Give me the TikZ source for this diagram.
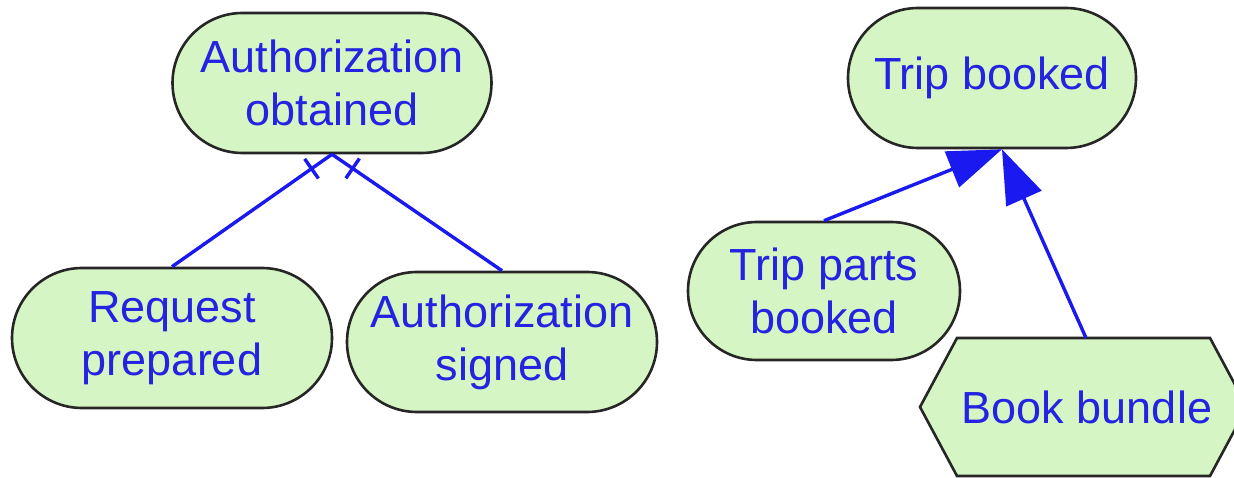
\documentclass[tikz,border=0pt]{standalone}
\usepackage{fontspec}
\setmainfont{Liberation Sans}
\usetikzlibrary{shapes.misc,arrows.meta,decorations.markings,calc}
\definecolor{nodefill}{RGB}{214,245,196}
\definecolor{txtblue}{RGB}{35,35,225}
\definecolor{lineblue}{RGB}{25,25,240}
\begin{document}
\begin{tikzpicture}[x=1pt,y=-1pt,
  state/.style={rounded rectangle, draw=black!85, line width=2.6pt, fill=nodefill,
    text=txtblue, align=center, inner sep=0pt, minimum height=140pt,
    font=\fontsize{45}{53}\selectfont},
  conn/.style={draw=lineblue, line width=3.4pt},
  tickline/.style={conn, postaction={decorate},
    decoration={markings, mark=at position 25pt with {\draw[lineblue, line width=3.4pt] (0pt,-12pt) -- (0pt,12pt);}}},
  bigarrow/.style={conn, -{Triangle[length=54pt,width=38pt]}}]
\useasboundingbox (0,0) rectangle (1234,478);
% left group
\node[state, minimum width=319pt] (ao) at (332,83) {Authorization\\obtained};
\node[state, minimum width=320pt] (rp) at (172,338) {Request\\prepared};
\node[state, minimum width=310pt] (as) at (502,342) {Authorization\\signed};
\draw[tickline] (ao.south) -- (rp.north);
\draw[tickline] (ao.south) -- (as.north);
% right group
\node[state, minimum width=288pt] (tb) at (992,78) {Trip booked};
\node[state, minimum width=272pt, minimum height=138pt] (tpb) at (824,291) {Trip parts\\booked};
\draw[fill=nodefill, draw=black!85, line width=2.6pt]
  (920,407) -- (957,338) -- (1210,338) -- (1247,407) -- (1210,476) -- (957,476) -- cycle;
\node[text=txtblue, font=\fontsize{45}{53}\selectfont, inner sep=0pt] (bb) at (1087,407) {Book bundle};
\coordinate (bbtop) at (1086,338);
\coordinate (tbtip) at ($(tb.south)+(10pt,0pt)$);
\draw[bigarrow] (tpb.north) -- (tbtip);
\draw[bigarrow] (bbtop) -- (tbtip);
\end{tikzpicture}
\end{document}
